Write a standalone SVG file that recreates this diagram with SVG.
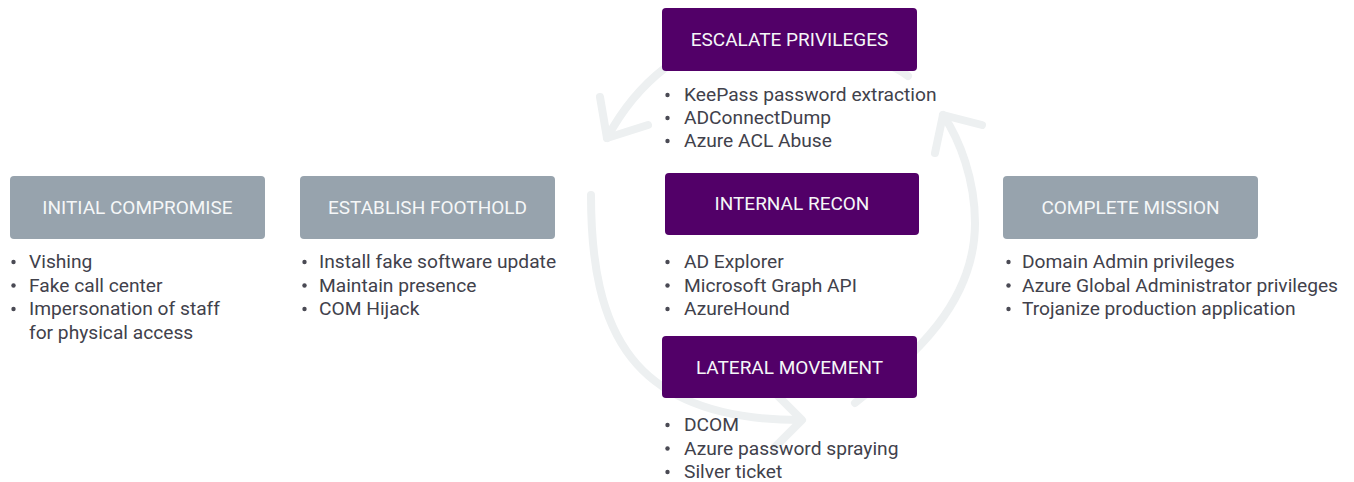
<svg xmlns="http://www.w3.org/2000/svg" width="1354" height="482" viewBox="0 0 1354 482">
<style>
.bg{fill:#ffffff}
.cyc{fill:none;stroke:#edf0f1;stroke-width:8;stroke-linecap:round;stroke-linejoin:round}
.gray{fill:#97a3ad}
.purple{fill:#520068}
.title{font-family:Roboto,"Liberation Sans",sans-serif;font-size:19px;fill:#f5f7f8;text-anchor:middle}
.item{font-family:Roboto,"Liberation Sans",sans-serif;font-size:19.2px;fill:#41414b}
.dot{fill:#4a4a54}
</style>
<rect class="bg" x="0" y="0" width="1354" height="482"/>
<g id="connectors">
  <path class="cyc" d="M591,195 C591,330 630,420 800,420"/>
  <path class="cyc" d="M774,392 L802,420 L774,448"/>
  <path class="cyc" d="M855,403 C915,355 975,303 975,223 C975,180 960,140 943,115"/>
  <path class="cyc" d="M935,153 L943,115 L982,125"/>
  <path class="cyc" d="M908,76 C860,40 720,35 665,68 Q630,95 607,138"/>
  <path class="cyc" d="M600,97 L607,138 L648,125"/>
</g>
<g id="node-initial">
  <rect class="gray" x="10" y="176" width="255" height="63" rx="4"/>
  <text class="title" x="137.5" y="214">INITIAL COMPROMISE</text>
  <circle class="dot" cx="13.5" cy="262" r="2.2"/><text class="item" x="29" y="268">Vishing</text>
  <circle class="dot" cx="13.5" cy="285.5" r="2.2"/><text class="item" x="29" y="291.5">Fake call center</text>
  <circle class="dot" cx="13.5" cy="309" r="2.2"/><text class="item" x="29" y="315">Impersonation of staff</text>
  <text class="item" x="29" y="338.5">for physical access</text>
</g>
<g id="node-foothold">
  <rect class="gray" x="300" y="176" width="255" height="63" rx="4"/>
  <text class="title" x="427.5" y="214">ESTABLISH FOOTHOLD</text>
  <circle class="dot" cx="304.5" cy="262" r="2.2"/><text class="item" x="319" y="268">Install fake software update</text>
  <circle class="dot" cx="304.5" cy="285.5" r="2.2"/><text class="item" x="319" y="291.5">Maintain presence</text>
  <circle class="dot" cx="304.5" cy="309" r="2.2"/><text class="item" x="319" y="315">COM Hijack</text>
</g>
<g id="node-escalate">
  <rect class="purple" x="662" y="8" width="255" height="63" rx="4"/>
  <text class="title" x="789.5" y="46">ESCALATE PRIVILEGES</text>
  <circle class="dot" cx="667.5" cy="95" r="2.2"/><text class="item" x="684" y="101">KeePass password extraction</text>
  <circle class="dot" cx="667.5" cy="118" r="2.2"/><text class="item" x="684" y="124">ADConnectDump</text>
  <circle class="dot" cx="667.5" cy="141" r="2.2"/><text class="item" x="684" y="147">Azure ACL Abuse</text>
</g>
<g id="node-recon">
  <rect class="purple" x="665" y="173" width="254" height="62" rx="4"/>
  <text class="title" x="792" y="210">INTERNAL RECON</text>
  <circle class="dot" cx="667.5" cy="262" r="2.2"/><text class="item" x="684" y="268">AD Explorer</text>
  <circle class="dot" cx="667.5" cy="285.5" r="2.2"/><text class="item" x="684" y="291.5">Microsoft Graph API</text>
  <circle class="dot" cx="667.5" cy="309" r="2.2"/><text class="item" x="684" y="315">AzureHound</text>
</g>
<g id="node-lateral">
  <rect class="purple" x="662" y="336" width="255" height="62" rx="4"/>
  <text class="title" x="789.5" y="374">LATERAL MOVEMENT</text>
  <circle class="dot" cx="667.5" cy="425" r="2.2"/><text class="item" x="684" y="431">DCOM</text>
  <circle class="dot" cx="667.5" cy="448.5" r="2.2"/><text class="item" x="684" y="454.5">Azure password spraying</text>
  <circle class="dot" cx="667.5" cy="472" r="2.2"/><text class="item" x="684" y="478">Silver ticket</text>
</g>
<g id="node-mission">
  <rect class="gray" x="1003" y="176" width="255" height="63" rx="4"/>
  <text class="title" x="1130.5" y="214">COMPLETE MISSION</text>
  <circle class="dot" cx="1008.5" cy="262" r="2.2"/><text class="item" x="1022" y="268">Domain Admin privileges</text>
  <circle class="dot" cx="1008.5" cy="285.5" r="2.2"/><text class="item" x="1022" y="291.5">Azure Global Administrator privileges</text>
  <circle class="dot" cx="1008.5" cy="309" r="2.2"/><text class="item" x="1022" y="315">Trojanize production application</text>
</g>
</svg>
